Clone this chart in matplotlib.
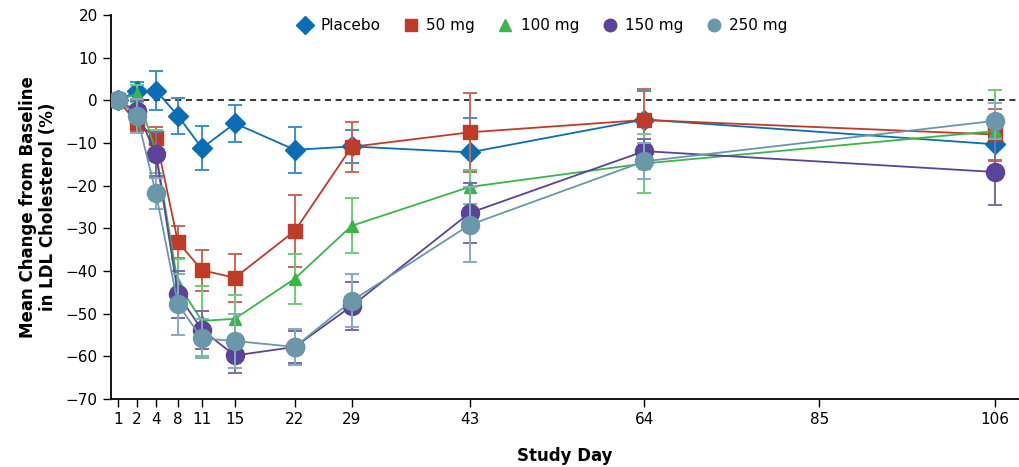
import numpy as np
import matplotlib.pyplot as plt

# study days and where each tick sits on the (broken) axis, in pixel units
tick_days = [1, 2, 4, 8, 11, 15, 22, 29, 43, 64, 85, 106]
tick_pos = [118, 137, 156, 178, 202, 235, 295, 352, 470, 645, 820, 996]

days = [1, 2, 4, 8, 11, 15, 22, 29, 43, 64, 106]

placebo = [0, 2.1, 2.3, -3.6, -11.2, -5.4, -11.6, -10.8, -12.2, -4.5, -10.3]
placebo_err = [0, 2.3, 4.5, 4.2, 5.1, 4.4, 5.4, 3.9, 8.0, 6.6, 4.0]

mg50 = [0, -5.2, -8.8, -33.2, -39.8, -41.6, -30.6, -10.9, -7.5, -4.6, -8.0]
mg50_err = [0, 2.2, 2.6, 3.8, 4.8, 5.6, 8.4, 5.8, 9.2, 7.2, 6.0]

mg100 = [0, 1.5, -12.0, -43.0, -51.7, -51.2, -41.8, -29.4, -20.3, -14.8, -7.2]
mg100_err = [0, 2.0, 5.0, 5.8, 8.2, 5.6, 5.9, 6.4, 4.0, 7.0, 9.6]

mg150 = [0, -2.6, -12.6, -45.4, -53.8, -59.8, -57.8, -48.2, -26.4, -11.9, -16.8]
mg150_err = [0, 2.4, 5.2, 5.5, 4.5, 4.0, 3.7, 5.6, 7.0, 2.9, 7.8]

mg250 = [0, -3.6, -21.8, -47.8, -55.8, -56.4, -57.8, -47.0, -29.2, -14.3, -4.8]
mg250_err = [0, 4.0, 3.6, 7.2, 4.6, 6.4, 4.2, 6.2, 8.8, 4.2, 4.2]

labels = ['Placebo', '50 mg', '100 mg', '150 mg', '250 mg']

x = np.interp(days, tick_days, tick_pos)

fig = plt.figure(figsize=(10.2, 4.67), dpi=100)
ax = fig.add_axes([111/1020, 1-399/467, (1019-111)/1020, (399-15)/467])

ax.axhline(0, color='black', ls=(0, (4, 3)), lw=1.1, zorder=1)

series = [
    (placebo, placebo_err, '#0b6db3', '#3d8fca', 'D', 10),
    (mg50, mg50_err, '#c03a28', '#cc6658', 's', 10),
    (mg100, mg100_err, '#3bb54a', '#6fcb7a', '^', 9),
    (mg150, mg150_err, '#5a4398', '#7b69ad', 'o', 13),
    (mg250, mg250_err, '#6a97aa', '#87acbc', 'o', 13),
]

handles = []
for i, (vals, err, col, ecol, mk, ms) in enumerate(series):
    ax.errorbar(x, vals, yerr=err, fmt='none', ecolor=ecol, elinewidth=1.4,
                capsize=5, capthick=1.4, zorder=2 + i)
    h, = ax.plot(x, vals, color=col, lw=1.3, marker=mk, ms=ms,
                 mec=col, mfc=col, zorder=2 + i, label=labels[i])
    handles.append(h)

ax.set_xlim(111, 1020)
ax.set_ylim(-70, 20)
ax.set_yticks(np.arange(-70, 21, 10))
ax.set_yticklabels([str(v).replace('-', '\u2212') for v in range(-70, 21, 10)])
ax.set_xticks(tick_pos)
ax.set_xticklabels([str(d) for d in tick_days])
ax.tick_params(direction='out', length=6, width=1, labelsize=11)
ax.spines['top'].set_visible(False)
ax.spines['right'].set_visible(False)
ax.spines['bottom'].set_linewidth(1.3)
ax.spines['left'].set_linewidth(1.3)

ax.set_xlabel('Study Day', fontsize=12, fontweight='bold', labelpad=14)
ax.set_ylabel('Mean Change from Baseline\nin LDL Cholesterol (%)', fontsize=12,
              fontweight='bold', labelpad=6)

leg = ax.legend(handles=handles, loc='upper center', ncol=5, frameon=False,
                bbox_to_anchor=(0.475, 1.027), fontsize=11, handlelength=1.0,
                columnspacing=1.5, handletextpad=0.5)
for lh in leg.legend_handles:
    lh.set_linestyle('none')
    lh.set_markersize(9)

plt.savefig('out.png', dpi=100)
